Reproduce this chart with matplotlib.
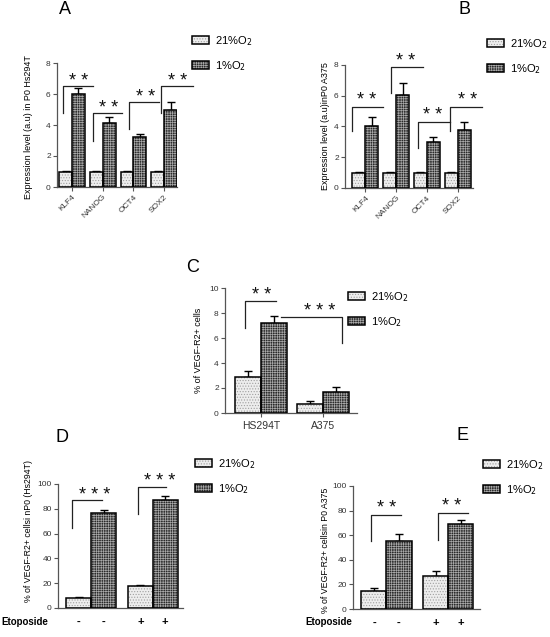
import numpy as np
import matplotlib
matplotlib.use("Agg")
import matplotlib.pyplot as plt
from matplotlib.patches import Patch
from matplotlib.legend_handler import HandlerTuple

# ---------------- data ----------------
genes = ["KLF4", "NANOG", "OCT4", "SOX2"]
a_21 = [1.0, 1.0, 1.0, 1.0]
a_21_err = [0.05, 0.05, 0.05, 0.05]
a_1 = [6.0, 4.15, 3.2, 5.0]
a_1_err = [0.4, 0.35, 0.25, 0.5]

b_21 = [1.0, 1.0, 1.0, 1.0]
b_21_err = [0.05, 0.05, 0.05, 0.05]
b_1 = [4.05, 6.05, 3.0, 3.75]
b_1_err = [0.6, 0.75, 0.3, 0.55]

c_lines = ["HS294T", "A375"]
c_21 = [2.9, 0.7]
c_21_err = [0.45, 0.27]
c_1 = [7.2, 1.7]
c_1_err = [0.6, 0.4]

d_21 = [8.0, 18.0]
d_21_err = [0.8, 0.6]
d_1 = [77.0, 87.0]
d_1_err = [2.2, 3.0]

e_21 = [15.0, 27.0]
e_21_err = [1.7, 4.0]
e_1 = [55.0, 69.0]
e_1_err = [6.0, 3.0]

etoposide = ["-", "-", "+", "+"]
legend_labels = ["21%O$_2$", "1%O$_2$"]

# significance annotations: (label, x_left, x_right, y_low, y_top, x_text, y_text, style)
a_sig = [("**", -0.31, 0.69, 4.77, 6.5, 0.23, 7.2, "L"),
         ("**", 0.68, 1.63, 3.0, 4.8, 1.20, 5.5, "L"),
         ("**", 1.85, 2.83, 3.76, 5.48, 2.40, 6.2, "L"),
         ("**", 2.91, 3.94, 4.77, 6.5, 3.45, 7.2, "L")]
b_sig = [("**", -0.42, 0.56, 3.68, 5.3, 0.05, 6.1, "L"),
         ("**", 0.83, 1.86, 6.16, 7.9, 1.31, 8.65, "L"),
         ("**", 1.72, 2.74, 2.6, 4.3, 2.18, 5.1, "L"),
         ("**", 2.76, 3.80, 3.68, 5.3, 3.31, 6.1, "L")]
c_sig = [("**", -0.27, 0.23, 6.78, 8.93, 0.0, 9.87, "L"),
         ("***", 0.32, 1.30, 5.58, 7.67, 0.95, 8.66, "R")]
d_sig = [("***", -0.32, 0.18, 64.5, 86.8, 0.05, 95.4, "L"),
         ("***", 0.76, 1.22, 76.0, 97.6, 1.11, 106.7, "L")]
e_sig = [("**", -0.25, 0.24, 54.9, 76.5, 0.0, 86.5, "L"),
         ("**", 0.83, 1.31, 56.0, 77.8, 1.05, 88.6, "L")]

# ---------------- style ----------------
plt.rcParams["font.family"] = ["Liberation Sans", "DejaVu Sans"]
plt.rcParams["hatch.linewidth"] = 0.5
FC21, HC21, H21 = "#ededed", "#a0a0a0", "......"
FC1, HC1, H1 = "#2a2a2a", "#a8a8a8", "+++++++"
AX_COL = "#555555"

fig = plt.figure(figsize=(5.5, 6.37), dpi=100)
W, H = 550.0, 637.0


def make_ax(left_px, right_px, top_px, bottom_px):
    return fig.add_axes([left_px / W, 1 - bottom_px / H,
                         (right_px - left_px) / W, (bottom_px - top_px) / H])


def style_ax(ax):
    for s in ("top", "right"):
        ax.spines[s].set_visible(False)
    for s in ("left", "bottom"):
        ax.spines[s].set_color(AX_COL)
        ax.spines[s].set_linewidth(0.9)
    ax.tick_params(axis="both", colors=AX_COL, length=3, width=0.8,
                   labelsize=6, labelcolor="#333333", pad=1.5)


def bars(ax, n, v21, e21, v1, e1, w):
    x = np.arange(n)
    x21, x1 = x - w / 2, x + w / 2
    for xs, v, e, fc, hc, h in ((x21, v21, e21, FC21, HC21, H21),
                                (x1, v1, e1, FC1, HC1, H1)):
        ax.errorbar(xs, v, yerr=[np.zeros(n), e], fmt="none", ecolor="black",
                    elinewidth=1.0, capsize=3, capthick=1.0, zorder=1)
        ax.bar(xs, v, w, color=fc, hatch=h, edgecolor=hc, linewidth=0, zorder=2)
        ax.bar(xs, v, w, fill=False, edgecolor="black", linewidth=1.1, zorder=3)
    return x


def sig(ax, items, fs=13):
    for lab, xl, xr, yl, yt, xt, ytxt, st in items:
        if st == "L":
            ax.plot([xl, xl, xr], [yl, yt, yt], color="#222222", lw=0.9, clip_on=False)
        else:
            ax.plot([xl, xr, xr], [yt, yt, yl], color="#222222", lw=0.9, clip_on=False)
        ax.annotate(" ".join(lab), xy=(xt, ytxt), xytext=(0, -4.5),
                    textcoords="offset points", ha="center", va="center",
                    fontsize=fs, color="#111111", annotation_clip=False)


def legend(x_px, y_px):
    handles = [(Patch(facecolor=FC21, hatch=H21, edgecolor=HC21, linewidth=0),
                Patch(fill=False, edgecolor="black", linewidth=1.1)),
               (Patch(facecolor=FC1, hatch=H1, edgecolor=HC1, linewidth=0),
                Patch(fill=False, edgecolor="black", linewidth=1.1))]
    fig.legend(handles, legend_labels, loc="upper left",
               bbox_to_anchor=(x_px / W, 1 - y_px / H), frameon=False,
               fontsize=8, handlelength=1.5, handleheight=0.8, labelspacing=1.0,
               handletextpad=0.6, borderpad=0, borderaxespad=0,
               handler_map={tuple: HandlerTuple(ndivide=1, pad=0)})


def letter(x_px, y_px, s):
    fig.text(x_px / W, 1 - y_px / H, s, fontsize=13, ha="center", va="center")


def ylab(ax, text, x, y, fs=6.5):
    ax.set_ylabel(text, fontsize=fs)
    ax.yaxis.set_label_coords(x, y)


# ---------------- Panel A ----------------
axA = make_ax(57, 177, 63, 187)
xA = bars(axA, 4, a_21, a_21_err, a_1, a_1_err, 0.42)
axA.set_xlim(-0.49, 3.42)
axA.set_ylim(0, 8)
axA.set_yticks([0, 2, 4, 6, 8])
axA.set_xticks(xA)
axA.set_xticklabels(genes, rotation=45, ha="right", rotation_mode="anchor")
style_ax(axA)
ylab(axA, "Expression level (a.u) in P0 Hs294T", -0.2, 0.48)
sig(axA, a_sig)
letter(65, 10, "A")
legend(192, 34)

# ---------------- Panel B ----------------
axB = make_ax(345, 473, 65, 188)
xB = bars(axB, 4, b_21, b_21_err, b_1, b_1_err, 0.42)
axB.set_xlim(-0.66, 3.5)
axB.set_ylim(0, 8)
axB.set_yticks([0, 2, 4, 6, 8])
axB.set_xticks(xB)
axB.set_xticklabels(genes, rotation=45, ha="right", rotation_mode="anchor")
style_ax(axB)
ylab(axB, "Expression level (a.u)inP0 A375", -0.12, 0.5)
sig(axB, b_sig)
letter(465, 10, "B")
legend(487, 37)

# ---------------- Panel C ----------------
axC = make_ax(225, 357, 288, 413)
xC = bars(axC, 2, c_21, c_21_err, c_1, c_1_err, 0.42)
axC.set_xlim(-0.59, 1.55)
axC.set_ylim(0, 10)
axC.set_yticks([0, 2, 4, 6, 8, 10])
axC.set_xticks(xC)
axC.set_xticklabels(c_lines)
style_ax(axC)
axC.tick_params(axis="x", labelsize=7.5, pad=3)
ylab(axC, "% of VEGF-R2+ cells", -0.17, 0.5)
sig(axC, c_sig)
letter(193, 268, "C")
legend(348, 290)

# ---------------- Panel D ----------------
axD = make_ax(58, 183, 484, 608)
xD = bars(axD, 2, d_21, d_21_err, d_1, d_1_err, 0.405)
axD.set_xlim(-0.54, 1.49)
axD.set_ylim(0, 100)
axD.set_yticks([0, 20, 40, 60, 80, 100])
axD.set_xticks([])
style_ax(axD)
ylab(axD, "% of VEGF-R2+ cellsi nP0 (Hs294T)", -0.2, 0.62, fs=6.3)
sig(axD, d_sig)
letter(62, 437, "D")
legend(195, 457)

# ---------------- Panel E ----------------
axE = make_ax(353, 480, 486, 609)
xE = bars(axE, 2, e_21, e_21_err, e_1, e_1_err, 0.405)
axE.set_xlim(-0.54, 1.51)
axE.set_ylim(0, 100)
axE.set_yticks([0, 20, 40, 60, 80, 100])
axE.set_xticks([])
style_ax(axE)
ylab(axE, "% of VEGF-R2+ cellsin P0 A375", -0.18, 0.48, fs=6.3)
sig(axE, e_sig)
letter(463, 435, "E")
legend(483, 458)

# Etoposide rows
for ax, xs, lab_x in ((axD, np.concatenate([xD - 0.2, xD + 0.2]), 1),
                      (axE, np.concatenate([xE - 0.2, xE + 0.2]), 305)):
    xs = np.sort(xs)
    for xx, s in zip(xs, etoposide):
        ax.annotate(s, xy=(xx, 0), xycoords=("data", "axes fraction"),
                    xytext=(0, -10), textcoords="offset points",
                    ha="center", va="center", fontsize=8, fontweight="bold")
    fig.text(lab_x / W, 1 - 622 / H, "Etoposide", fontsize=7, fontweight="bold",
             ha="left", va="center")

fig.savefig("out.png", dpi=100)
